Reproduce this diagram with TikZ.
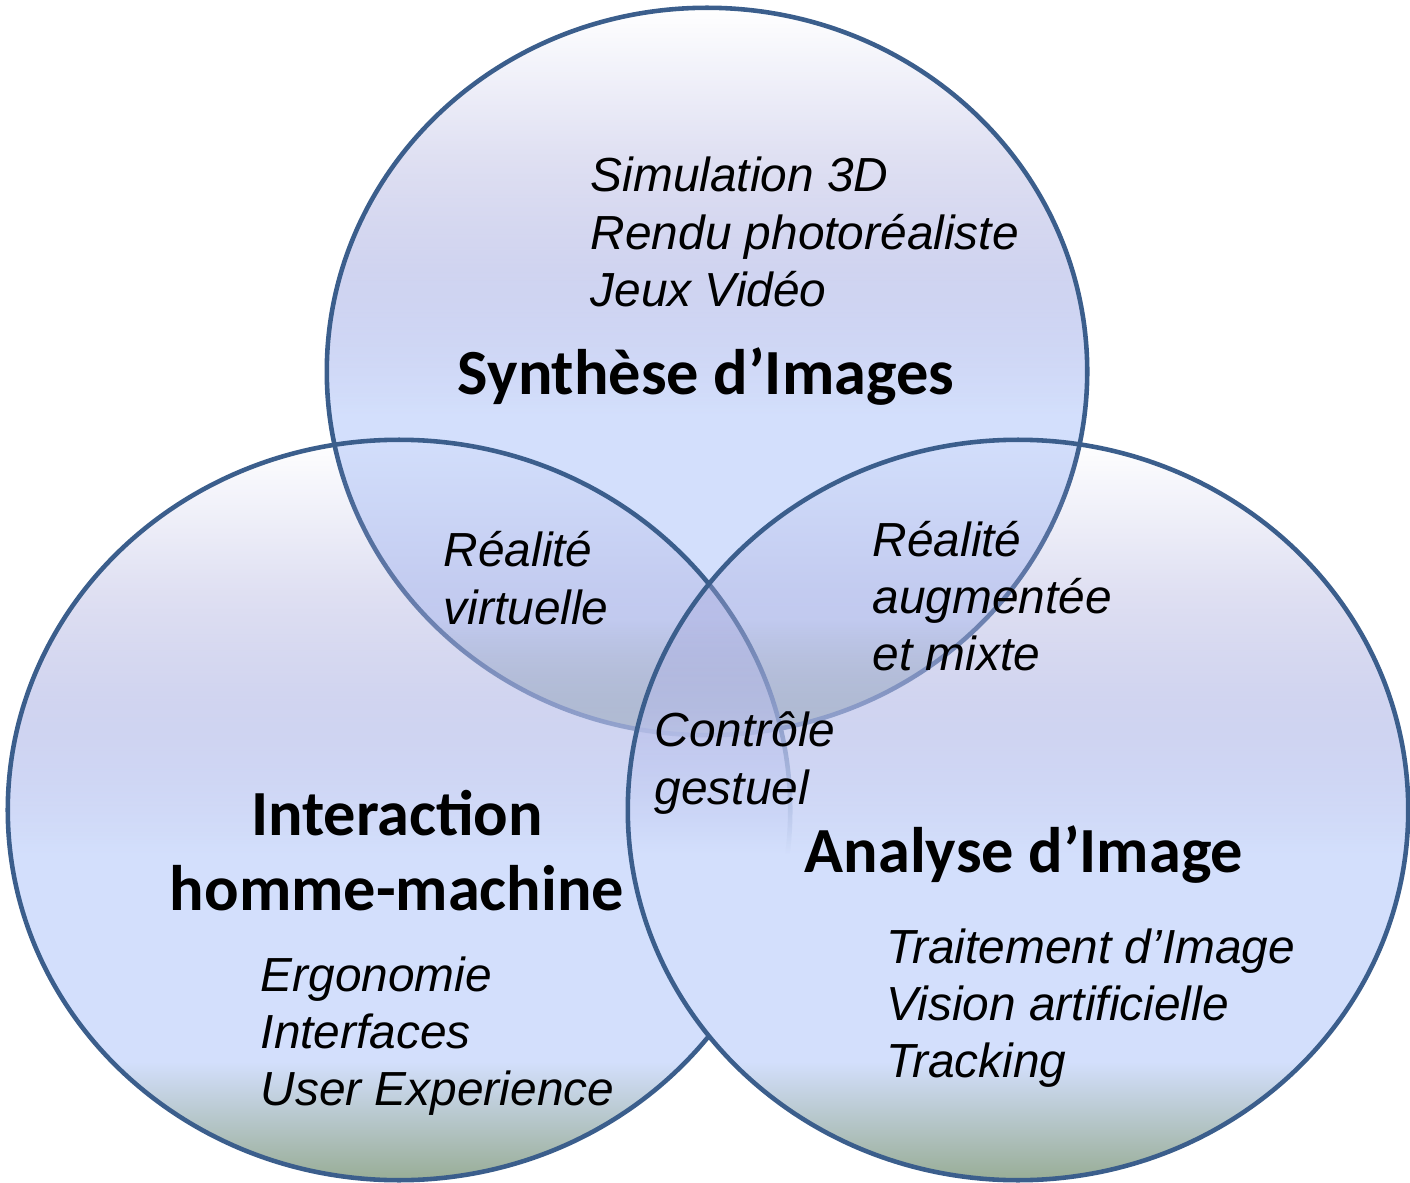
\documentclass[tikz,border=0pt]{standalone}
\usepackage{fontspec}
\setmainfont{Liberation Sans}
\newfontfamily\calibri{Carlito}
\usetikzlibrary{fadings}

\definecolor{vennlav}{RGB}{168,170,220}
\definecolor{vennmid}{RGB}{182,188,232}
\definecolor{vennblue}{RGB}{211,223,252}
\definecolor{vennbot}{RGB}{152,173,150}
\definecolor{vennedge}{RGB}{59,94,140}

% couleur (bas -> haut) et masque d'opacite
\pgfdeclareverticalshading{vennfill}{100bp}{color(0bp)=(vennbot); color(25bp)=(vennbot); color(33bp)=(vennblue); color(47bp)=(vennblue); color(57bp)=(vennmid); color(65bp)=(vennlav); color(75bp)=(vennlav); color(100bp)=(vennlav)}
\pgfdeclareverticalshading{vennmask}{100bp}{color(0bp)=(white); color(47bp)=(white); color(75bp)=(black); color(100bp)=(black)}
\pgfdeclarefading{vennfade}{\pgfuseshading{vennmask}}

\tikzset{
	disc/.style={shading=vennfill, path fading=vennfade},
	rim/.style={draw=vennedge, line width=1.3pt},
	item/.style={anchor=west, inner sep=0pt, align=left, font=\fontsize{13.6}{16.3}\selectfont\itshape},
	title/.style={inner sep=0pt, align=center, font=\calibri\bfseries\fontsize{18.3}{21.3}\selectfont}
}

\begin{document}
\begin{tikzpicture}[x=0.01cm, y=-0.01cm]
			\useasboundingbox (0,0) rectangle (1410,1183);
			\coordinate (synthc) at (707,371.5);
			\coordinate (ihmc) at (399,810);
			\coordinate (aic) at (1018,810);
			
			% les trois disques
			\shade[disc] (synthc) ellipse [x radius=3.80cm, y radius=3.635cm];
			\draw[rim] (synthc) ellipse [x radius=3.80cm, y radius=3.635cm];
			\shade[disc] (ihmc) ellipse [x radius=3.91cm, y radius=3.70cm];
			\draw[rim] (ihmc) ellipse [x radius=3.91cm, y radius=3.70cm];
			\shade[disc] (aic) ellipse [x radius=3.90cm, y radius=3.70cm];
			\draw[rim] (aic) ellipse [x radius=3.90cm, y radius=3.70cm];
			
			\node[item] (synthlist) at (590,232) {Simulation 3D\\Rendu photoréaliste\\Jeux Vidéo};
			\node[title] (synth) at (706,377) {Synthèse d’Images};
			
			\node[item] (rv) at (443,578) {Réalité\\virtuelle};
			\node[item] (ra) at (872,596) {Réalité\\augmentée\\et mixte};
			\node[item] (cg) at (654,763) {Contrôle\\gestuel};
			
			\node[title] (ihm) at (397,851) {Interaction\\homme-machine};
			\node[item] (ihmlist) at (260,1036) {Ergonomie\\Interfaces\\User Experience};
			
			\node[title] (ai) at (1024,855) {Analyse d’Image};
			\node[item] (ailist) at (886,1008) {Traitement d’Image\\Vision artificielle\\Tracking};
		\end{tikzpicture}
\end{document}
